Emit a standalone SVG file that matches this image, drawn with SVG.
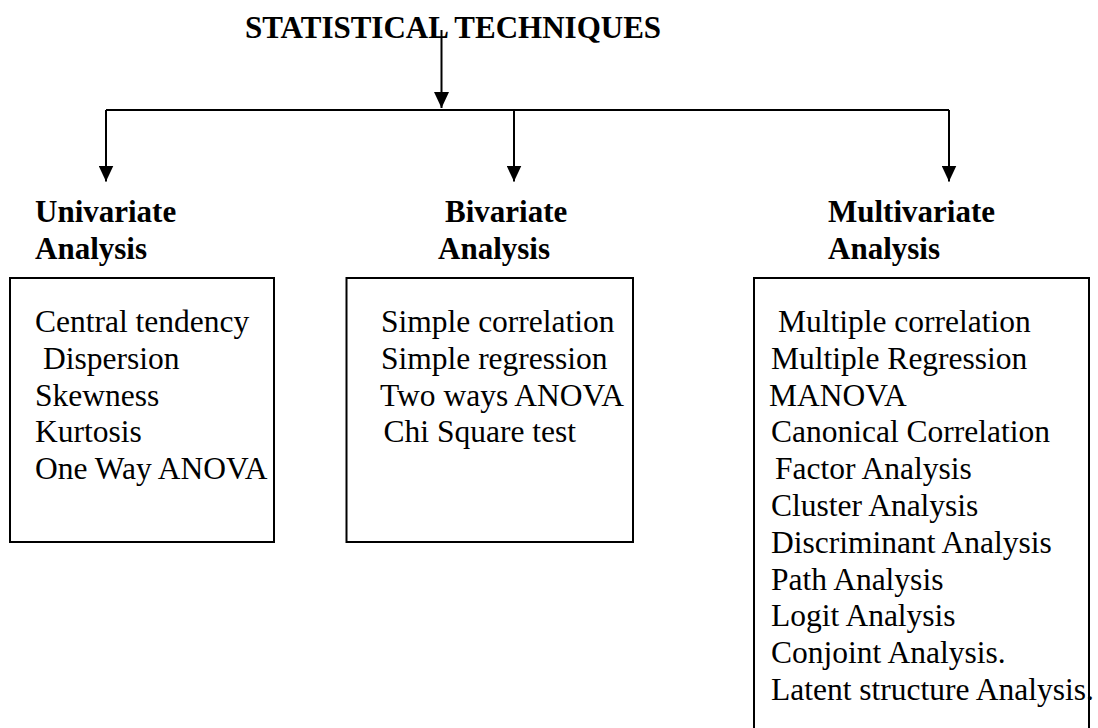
<svg xmlns="http://www.w3.org/2000/svg" width="1098" height="728" viewBox="0 0 1098 728">
<style>
.t{font-family:"Liberation Serif","Times New Roman",serif;fill:#000}
.h{font-weight:bold;font-size:31px}
.b{font-size:31.5px}
.ln{stroke:#000;stroke-width:2;fill:none}
.box{stroke:#000;stroke-width:2;fill:none}
</style>
<defs>
<marker id="ah" viewBox="0 0 16 15" refX="16" refY="7.5" markerWidth="16" markerHeight="15" markerUnits="userSpaceOnUse" orient="auto">
<path d="M0,0 L16,7.5 L0,15 Z" fill="#000"/>
</marker>
</defs>
<rect width="1098" height="728" fill="#fff"/>
<g id="title">
<text class="t h" x="245" y="38">STATISTICAL TECHNIQUES</text>
</g>
<g id="connectors">
<line class="ln" x1="441.5" y1="30" x2="441.5" y2="108" marker-end="url(#ah)"/>
<line class="ln" x1="106" y1="110" x2="949" y2="110"/>
<line class="ln" x1="106" y1="110" x2="106" y2="181.5" marker-end="url(#ah)"/>
<line class="ln" x1="514" y1="110" x2="514" y2="181.5" marker-end="url(#ah)"/>
<line class="ln" x1="949" y1="110" x2="949" y2="181.5" marker-end="url(#ah)"/>
</g>
<g id="univariate">
<text class="t h" x="35" y="222">Univariate</text>
<text class="t h" x="35" y="259">Analysis</text>
<rect class="box" x="10" y="278" width="264" height="264"/>
<text class="t b" x="35" y="332">Central tendency</text>
<text class="t b" x="43" y="368.8">Dispersion</text>
<text class="t b" x="35" y="405.6">Skewness</text>
<text class="t b" x="35" y="442.4">Kurtosis</text>
<text class="t b" x="35" y="479.2">One Way ANOVA</text>
</g>
<g id="bivariate">
<text class="t h" x="445" y="222">Bivariate</text>
<text class="t h" x="438" y="259">Analysis</text>
<rect class="box" x="346.5" y="278" width="286.5" height="264"/>
<text class="t b" x="381" y="332">Simple correlation</text>
<text class="t b" x="381" y="368.8">Simple regression</text>
<text class="t b" x="380" y="405.6">Two ways ANOVA</text>
<text class="t b" x="383.5" y="442.4">Chi Square test</text>
</g>
<g id="multivariate">
<text class="t h" x="828" y="222">Multivariate</text>
<text class="t h" x="828" y="259">Analysis</text>
<path class="box" d="M754,729 V278 H1089 V729"/>
<text class="t b" x="778" y="332">Multiple correlation</text>
<text class="t b" x="771" y="368.8">Multiple Regression</text>
<text class="t b" x="769" y="405.6">MANOVA</text>
<text class="t b" x="771" y="442.4">Canonical Correlation</text>
<text class="t b" x="775" y="479.2">Factor Analysis</text>
<text class="t b" x="771" y="516">Cluster Analysis</text>
<text class="t b" x="771" y="552.8">Discriminant Analysis</text>
<text class="t b" x="771" y="589.6">Path Analysis</text>
<text class="t b" x="771" y="626.4">Logit Analysis</text>
<text class="t b" x="771" y="663.2">Conjoint Analysis.</text>
<text class="t b" x="771" y="700">Latent structure Analysis.</text>
</g>
</svg>
